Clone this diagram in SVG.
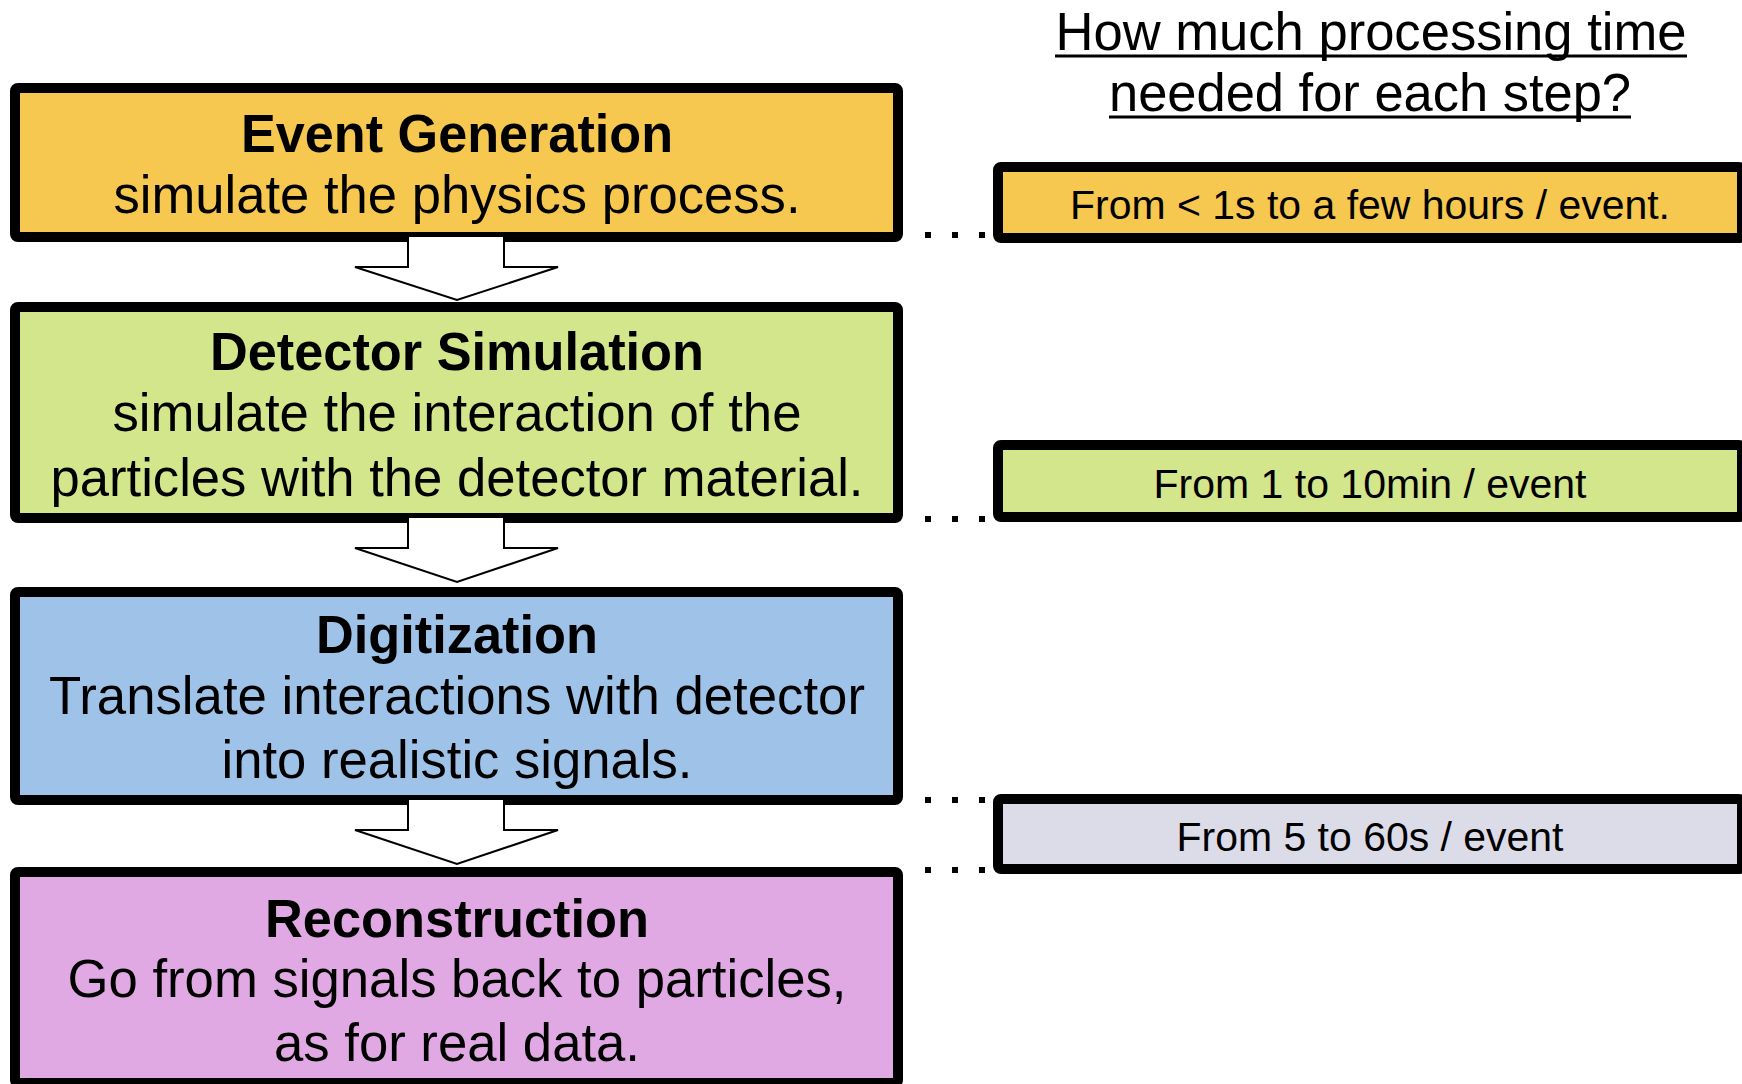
<svg xmlns="http://www.w3.org/2000/svg" width="1742" height="1084" viewBox="0 0 1742 1084">
  <style>
    .box { stroke: #000; stroke-width: 10; stroke-linejoin: round; }
    .title { font-family: "Liberation Sans", Arial, sans-serif; font-weight: bold; font-size: 54px; fill: #000; text-anchor: middle; }
    .body { font-family: "Liberation Sans", Arial, sans-serif; font-size: 54px; fill: #000; text-anchor: middle; }
    .time { font-family: "Liberation Sans", Arial, sans-serif; font-size: 41px; fill: #000; text-anchor: middle; }
    .head { font-family: "Liberation Sans", Arial, sans-serif; font-size: 54px; fill: #000; text-anchor: middle; }
    .arrow { fill: #fff; stroke: #000; stroke-width: 2; stroke-linejoin: miter; }
    .dots { stroke: #000; stroke-width: 6; stroke-dasharray: 6 21; }
    .uline { stroke: #000; stroke-width: 3; }
  </style>

  <rect width="1742" height="1084" fill="#fff"/>

  <!-- heading -->
  <g id="heading">
    <text class="head" x="1371" y="50" textLength="631" lengthAdjust="spacingAndGlyphs">How much processing time</text>
    <line class="uline" x1="1055" y1="56" x2="1687" y2="56"/>
    <text class="head" x="1370" y="111" textLength="522" lengthAdjust="spacingAndGlyphs">needed for each step?</text>
    <line class="uline" x1="1109" y1="117" x2="1631" y2="117"/>
  </g>

  <!-- processing steps -->
  <g id="event-generation">
    <rect class="box" x="15" y="88" width="883" height="149" rx="3" fill="#F6C850"/>
    <text class="title" x="457" y="152" textLength="432" lengthAdjust="spacingAndGlyphs">Event Generation</text>
    <text class="body" x="457" y="213" textLength="687" lengthAdjust="spacingAndGlyphs">simulate the physics process.</text>
  </g>

  <g id="detector-simulation">
    <rect class="box" x="15" y="307" width="883" height="211" rx="3" fill="#D4E68B"/>
    <text class="title" x="457" y="370" textLength="494" lengthAdjust="spacingAndGlyphs">Detector Simulation</text>
    <text class="body" x="457" y="431" textLength="689" lengthAdjust="spacingAndGlyphs">simulate the interaction of the</text>
    <text class="body" x="457" y="496" textLength="813" lengthAdjust="spacingAndGlyphs">particles with the detector material.</text>
  </g>

  <g id="digitization">
    <rect class="box" x="15" y="592" width="883" height="208" rx="3" fill="#9FC3E8"/>
    <text class="title" x="457" y="653" textLength="282" lengthAdjust="spacingAndGlyphs">Digitization</text>
    <text class="body" x="457" y="714" textLength="816" lengthAdjust="spacingAndGlyphs">Translate interactions with detector</text>
    <text class="body" x="457" y="778" textLength="471" lengthAdjust="spacingAndGlyphs">into realistic signals.</text>
  </g>

  <g id="reconstruction">
    <rect class="box" x="15" y="872" width="883" height="211" rx="3" fill="#E1A9E3"/>
    <text class="title" x="457" y="937" textLength="384" lengthAdjust="spacingAndGlyphs">Reconstruction</text>
    <text class="body" x="457" y="997" textLength="779" lengthAdjust="spacingAndGlyphs">Go from signals back to particles,</text>
    <text class="body" x="457" y="1061" textLength="366" lengthAdjust="spacingAndGlyphs">as for real data.</text>
  </g>

  <!-- time per step -->
  <g id="time-event-generation">
    <rect class="box" x="998" y="167" width="744" height="71" rx="3" fill="#F6C850"/>
    <text class="time" x="1370" y="219" textLength="600" lengthAdjust="spacingAndGlyphs">From &lt; 1s to a few hours / event.</text>
  </g>

  <g id="time-detector-simulation">
    <rect class="box" x="998" y="445" width="744" height="72" rx="3" fill="#D4E68B"/>
    <text class="time" x="1370" y="498" textLength="433" lengthAdjust="spacingAndGlyphs">From 1 to 10min / event</text>
  </g>

  <g id="time-digi-reco">
    <rect class="box" x="998" y="799" width="744" height="70" rx="3" fill="#DCDCE8"/>
    <text class="time" x="1370" y="851" textLength="387" lengthAdjust="spacingAndGlyphs">From 5 to 60s / event</text>
  </g>

  <!-- connectors: block arrows between steps and dotted leaders to the time boxes -->
  <g id="connectors">
    <polygon class="arrow" points="408,236 504,236 504,267 558,267 457,300 355,267 408,267"/>
    <polygon class="arrow" points="408,517 504,517 504,548 558,548 457,582 355,548 408,548"/>
    <polygon class="arrow" points="408,799 504,799 504,830 558,830 457,864 355,830 408,830"/>
    <line class="dots" x1="925" y1="235" x2="990" y2="235"/>
    <line class="dots" x1="925" y1="519" x2="990" y2="519"/>
    <line class="dots" x1="925" y1="800" x2="990" y2="800"/>
    <line class="dots" x1="925" y1="870" x2="990" y2="870"/>
  </g>
</svg>
